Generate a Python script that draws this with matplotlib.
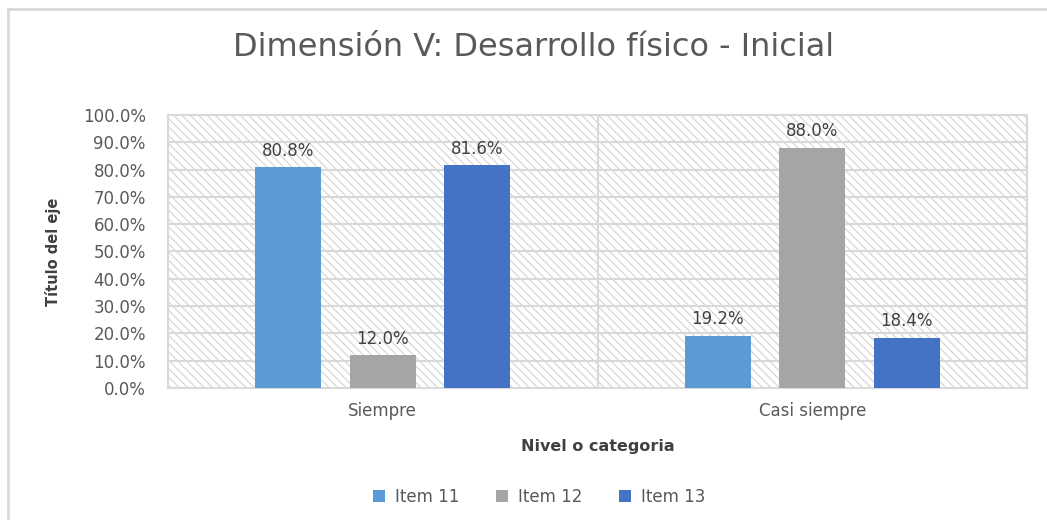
import numpy as np
import matplotlib.pyplot as plt
from matplotlib.patches import Rectangle
from matplotlib.ticker import PercentFormatter

# Data
categories = ["Siempre", "Casi siempre"]
series_names = ["Item 11", "Item 12", "Item 13"]
item11 = [80.8, 19.2]
item12 = [12.0, 88.0]
item13 = [81.6, 18.4]
colors = ["#5B9BD5", "#A5A5A5", "#4472C4"]

plt.rcParams['font.family'] = ['DejaVu Sans']
plt.rcParams['hatch.color'] = '#D4D4D4'
plt.rcParams['hatch.linewidth'] = 0.8

fig = plt.figure(figsize=(10.47, 5.2), dpi=100)
ax = fig.add_axes([0.1605, 0.254, 0.8205, 0.525])

# hatched background of the plot area
bg = Rectangle((0, 0), 1, 1, transform=ax.transAxes, facecolor='white',
               edgecolor='#D4D4D4', hatch='\\\\\\\\', linewidth=0, zorder=0)
ax.add_patch(bg)

x = np.arange(len(categories))
width = 0.154
offsets = [-0.22, 0, 0.22]
for vals, name, col, off in zip([item11, item12, item13], series_names, colors, offsets):
    bars = ax.bar(x + off, vals, width, color=col, label=name, zorder=3)
    for b, v in zip(bars, vals):
        ax.text(b.get_x() + b.get_width() / 2, v + 2.8, f"{v:.1f}%",
                ha='center', va='bottom', fontsize=12, color='#404040', zorder=4)

ax.set_xlim(-0.5, 1.5)
ax.set_ylim(0, 100)
ax.set_yticks(np.arange(0, 101, 10))
ax.yaxis.set_major_formatter(PercentFormatter(decimals=1))
ax.set_xticks(x)
ax.set_xticklabels(categories)
ax.tick_params(axis='both', length=0, labelsize=12, labelcolor='#595959')
ax.tick_params(axis='x', pad=10)
ax.tick_params(axis='y', pad=16)
ax.grid(axis='y', color='#D9D9D9', linewidth=1.5, zorder=1)
ax.axvline(0.5, color='#D9D9D9', linewidth=1.5, zorder=1)
for s in ax.spines.values():
    s.set_color('#D9D9D9')
    s.set_linewidth(1.5)

ax.set_xlabel("Nivel o categoria", fontsize=11.5, fontweight='bold', color='#404040', labelpad=14)
ax.set_ylabel("Título del eje", fontsize=10.5, fontweight='bold', color='#404040', labelpad=16)

fig.text(0.51, 0.908, "Dimensión V: Desarrollo físico - Inicial", ha='center', va='center',
         fontsize=23, color='#595959')

ax.legend(loc='center', bbox_to_anchor=(0.432, -0.40), ncol=3, frameon=False,
          fontsize=12, labelcolor='#595959', handlelength=0.7, handleheight=0.7,
          columnspacing=2.2, handletextpad=0.6)

# chart border (only top and left visible in reference)
fig.add_artist(plt.Line2D([0.008, 0.008], [0, 0.983], color='#D9D9D9', linewidth=2))
fig.add_artist(plt.Line2D([0.008, 1], [0.983, 0.983], color='#D9D9D9', linewidth=2))

fig.savefig("out.png", dpi=100)
